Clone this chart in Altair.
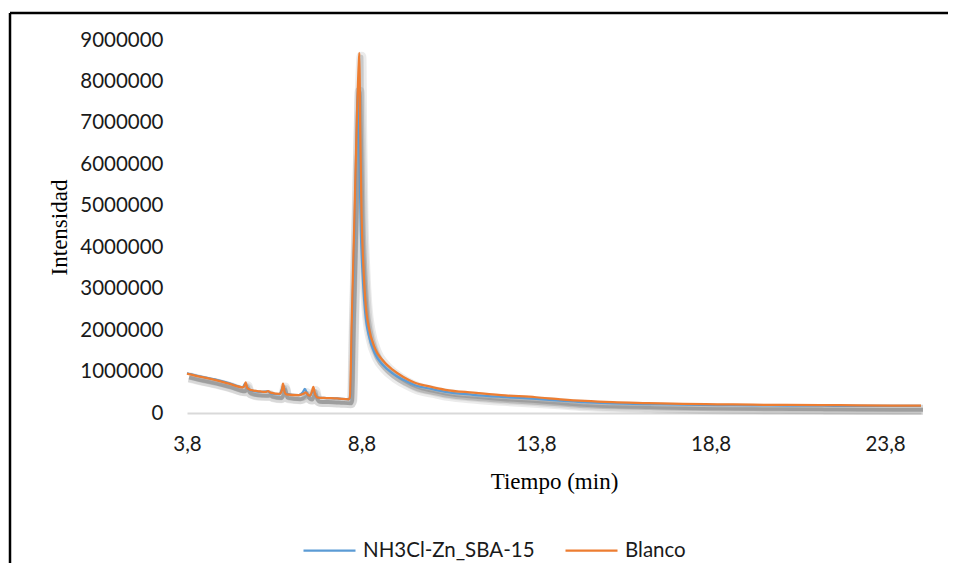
import altair as alt
import pandas as pd

series_names = ["NH3Cl-Zn_SBA-15", "Blanco"]
series_colors = ["#5B9BD5", "#ED7D31"]

t_nh3 = [3.8, 4.2, 4.6, 5.0, 5.4, 5.46, 5.5, 5.55, 5.65, 5.9, 6.12, 6.2, 6.45, 6.53, 6.56, 6.62,
         7.0, 7.12, 7.18, 7.25, 7.33, 7.42, 7.48, 7.55, 7.8, 8.1, 8.44, 8.48, 8.53, 8.60, 8.66,
         8.69, 8.73, 8.78, 8.84, 8.92, 9.0, 9.19, 9.4, 9.7, 10.0, 10.33, 10.8, 11.2, 12.0, 12.8,
         13.8, 14.5, 15.2, 16.0, 17.0, 18.0, 19.0, 20.0, 21.0, 22.0, 23.0, 24.0, 24.83]
i_nh3 = [0.96, 0.88, 0.81, 0.72, 0.62, 0.70, 0.66, 0.58, 0.54, 0.51, 0.52, 0.48, 0.45, 0.60, 0.66, 0.47,
         0.43, 0.50, 0.58, 0.45, 0.42, 0.55, 0.42, 0.37, 0.36, 0.35, 0.33, 0.40, 2.2, 4.5, 6.8,
         7.85, 6.6, 4.4, 3.2, 2.3, 1.9, 1.42, 1.17, 0.95, 0.80, 0.67, 0.58, 0.51, 0.44, 0.39,
         0.34, 0.30, 0.26, 0.235, 0.215, 0.20, 0.19, 0.185, 0.18, 0.175, 0.17, 0.17, 0.17]

t_blanco = [3.8, 4.2, 4.6, 5.0, 5.4, 5.45, 5.48, 5.53, 5.65, 5.9, 6.05, 6.12, 6.2, 6.45, 6.52, 6.55,
            6.6, 6.65, 7.0, 7.15, 7.2, 7.28, 7.33, 7.38, 7.42, 7.47, 7.55, 7.8, 8.1, 8.44, 8.47,
            8.52, 8.60, 8.67, 8.72, 8.74, 8.76, 8.80, 8.85, 8.92, 9.0, 9.19, 9.4, 9.7, 10.0, 10.33,
            10.8, 11.2, 12.0, 12.8, 13.8, 14.5, 15.2, 16.0, 17.0, 18.0, 19.0, 20.0, 21.0, 22.0,
            23.0, 24.0, 24.83]
i_blanco = [0.95, 0.87, 0.80, 0.71, 0.62, 0.66, 0.74, 0.60, 0.55, 0.52, 0.51, 0.53, 0.49, 0.46, 0.55, 0.71,
            0.50, 0.45, 0.43, 0.47, 0.50, 0.43, 0.42, 0.52, 0.63, 0.45, 0.37, 0.36, 0.35, 0.33, 0.40,
            2.2, 4.8, 7.2, 8.4, 8.69, 7.0, 4.8, 3.6, 2.6, 2.1, 1.55, 1.28, 1.04, 0.87, 0.73,
            0.63, 0.56, 0.49, 0.43, 0.38, 0.33, 0.29, 0.26, 0.24, 0.22, 0.21, 0.20, 0.195, 0.19,
            0.185, 0.18, 0.18]

x_ticks = [3.8, 8.8, 13.8, 18.8, 23.8]
y_ticks = [0, 1000000, 2000000, 3000000, 4000000, 5000000, 6000000, 7000000, 8000000, 9000000]

df_nh3 = pd.DataFrame({"t": t_nh3, "v": [v * 1e6 for v in i_nh3], "serie": series_names[0]})
df_bl = pd.DataFrame({"t": t_blanco, "v": [v * 1e6 for v in i_blanco], "serie": series_names[1]})
df_all = pd.concat([df_nh3, df_bl], ignore_index=True)

SANS = "Lato"
SERIF = "Liberation Serif"

x_enc = alt.X(
    "t:Q",
    scale=alt.Scale(domain=[3.8, 24.83], nice=False, zero=False),
    axis=alt.Axis(
        values=x_ticks,
        labelExpr="replace(format(datum.value, '.1f'), '.', ',')",
        labelFlush=False,
        title="Tiempo (min)",
        grid=False,
        ticks=False,
        domainColor="#d9d9d9",
        domainWidth=2,
        labelPadding=21,
        labelFont=SANS,
        labelFontSize=20.5,
        labelColor="#1a1a1a",
        titleFont=SERIF,
        titleFontSize=23,
        titleFontWeight="normal",
        titleColor="#000000",
        titleX=367,
        titleY=68,
        titleAlign="center",
        titleBaseline="middle",
    ),
)
y_enc = alt.Y(
    "v:Q",
    scale=alt.Scale(domain=[0, 9000000], nice=False),
    axis=alt.Axis(
        values=y_ticks,
        format="d",
        grid=False,
        ticks=False,
        domain=False,
        labelPadding=24,
        labelFont=SANS,
        labelFontSize=20.5,
        labelColor="#1a1a1a",
        title="Intensidad",
        titleFont=SERIF,
        titleFontSize=23,
        titleFontWeight="normal",
        titleColor="#000000",
        titleX=-128,
        titleY=187,
        titleAngle=270,
        titleAlign="center",
        titleBaseline="middle",
    ),
)

color_enc = alt.Color(
    "serie:N",
    scale=alt.Scale(domain=series_names, range=series_colors),
    legend=alt.Legend(
        title=None,
        orient="none",
        direction="horizontal",
        legendX=115,
        legendY=483,
        symbolType="stroke",
        symbolSize=2704,
        symbolStrokeWidth=2.25,
        labelFont=SANS,
        labelFontSize=20.5,
        labelColor="#1a1a1a",
        labelOffset=6,
        labelLimit=400,
        columnPadding=26,
        padding=0,
    ),
)

shadow_wide = alt.Chart(df_all).mark_line(
    color="#000000", opacity=0.08, strokeWidth=10, xOffset=2, yOffset=4,
    strokeJoin="round", interpolate="monotone"
).encode(x=x_enc, y=y_enc, detail="serie:N")
shadow_mid = alt.Chart(df_all).mark_line(
    color="#000000", opacity=0.14, strokeWidth=4, xOffset=2, yOffset=4,
    strokeJoin="round", interpolate="monotone"
).encode(x=x_enc, y=y_enc, detail="serie:N")

line_nh3 = alt.Chart(df_nh3).mark_line(strokeWidth=2.25, interpolate="monotone").encode(
    x=x_enc, y=y_enc, color=color_enc)
line_bl = alt.Chart(df_bl).mark_line(strokeWidth=2.25, interpolate="monotone").encode(
    x=x_enc, y=y_enc, color=color_enc)

frame_df = pd.DataFrame({"k": [0]})
frame_left = alt.Chart(frame_df).mark_rule(color="#000000", strokeWidth=2.5).encode(
    x=alt.value(-177), y=alt.value(-27), y2=alt.value(540)
)
frame_top = alt.Chart(frame_df).mark_rule(color="#000000", strokeWidth=2.5).encode(
    x=alt.value(-177), x2=alt.value(761), y=alt.value(-27)
)

chart = (
    alt.layer(frame_left, frame_top, shadow_wide, shadow_mid, line_nh3, line_bl)
    .properties(
        width=734,
        height=373,
        autosize=alt.AutoSizeParams(type="none"),
        padding={"left": 179, "top": 32, "right": 27, "bottom": 150},
        background="#ffffff",
    )
    .configure_view(stroke=None)
)

chart.save("out.html", embed_options={"renderer": "svg", "actions": False})
